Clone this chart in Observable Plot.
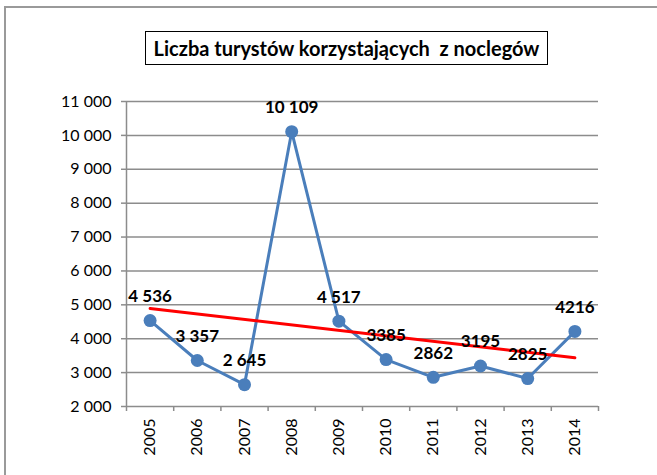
<!DOCTYPE html>
<html><head><meta charset="utf-8">
<script src="https://cdn.jsdelivr.net/npm/d3@7"></script>
<script src="https://cdn.jsdelivr.net/npm/@observablehq/plot@0.6"></script>
<style>
body{margin:0;background:#fff;}
#wrap{position:relative;width:657px;height:475px;overflow:hidden;font-family:Lato,sans-serif;background:#fff;}
#frame{position:absolute;left:4px;top:6px;width:700px;height:520px;border:2px solid #9a9a9a;box-sizing:border-box;}
#title{position:absolute;left:145px;top:31px;width:403px;height:34px;border:1.5px solid #000;box-sizing:border-box;display:flex;align-items:center;justify-content:center;font-weight:bold;font-size:20px;white-space:pre;color:#000;}
#chart{position:absolute;left:0;top:0;}
</style></head>
<body>
<div id="wrap">
  <div id="frame"></div>
  <div id="chart"></div>
  <div id="title">Liczba turystów korzystających  z noclegów</div>
</div>
<script>
const years = [2005, 2006, 2007, 2008, 2009, 2010, 2011, 2012, 2013, 2014];
const visitors = [4536, 3357, 2645, 10109, 4517, 3385, 2862, 3195, 2825, 4216];
const valueLabels = ["4 536", "3 357", "2 645", "10 109", "4 517", "3385", "2862", "3195", "2825", "4216"];
const yTicks = [2000, 3000, 4000, 5000, 6000, 7000, 8000, 9000, 10000, 11000];
const yTickLabels = ["2 000", "3 000", "4 000", "5 000", "6 000", "7 000", "8 000", "9 000", "10 000", "11 000"];

const data = years.map((year, i) => ({year, value: visitors[i], label: valueLabels[i]}));
const bounds = years.map(y => y - 0.5).concat([years[years.length - 1] + 0.5]);
const gray = "#8c8c8c";

const chart = Plot.plot({
  width: 657,
  height: 475,
  marginLeft: 126,
  marginRight: 59,
  marginTop: 101,
  marginBottom: 69,
  style: {fontFamily: "Lato, sans-serif", fontSize: "16px", color: "#000", background: "transparent"},
  x: {domain: [bounds[0], bounds[bounds.length - 1]]},
  y: {domain: [yTicks[0], yTicks[yTicks.length - 1]]},
  marks: [
    Plot.ruleY(yTicks, {stroke: gray, strokeWidth: 1.5}),
    Plot.ruleX([bounds[0]], {stroke: gray, strokeWidth: 1.5}),
    Plot.axisY({ticks: yTicks, tickFormat: d => yTickLabels[yTicks.indexOf(d)], tickSize: 5, tickPadding: 10, stroke: gray, strokeWidth: 1.5, fill: "#000", label: null}),
    Plot.axisX({ticks: bounds, tickFormat: () => "", tickSize: 5, stroke: gray, strokeWidth: 1.5, label: null}),
    Plot.axisX({ticks: years, tickFormat: d => String(d), tickSize: 0, tickPadding: 12, tickRotate: -90, fill: "#000", label: null}),
    Plot.line(data, {x: "year", y: "value", stroke: "#4a7ebb", strokeWidth: 3}),
    Plot.linearRegressionY(data, {x: "year", y: "value", stroke: "#ff0000", strokeWidth: 3, ci: 0}),
    Plot.dot(data, {x: "year", y: "value", r: 6.5, fill: "#4a7ebb"}),
    Plot.text(data, {x: "year", y: "value", text: "label", dy: -24, fontWeight: "bold", fontSize: 17, fill: "#000"})
  ]
});
document.getElementById("chart").appendChild(chart);
</script>
</body></html>
